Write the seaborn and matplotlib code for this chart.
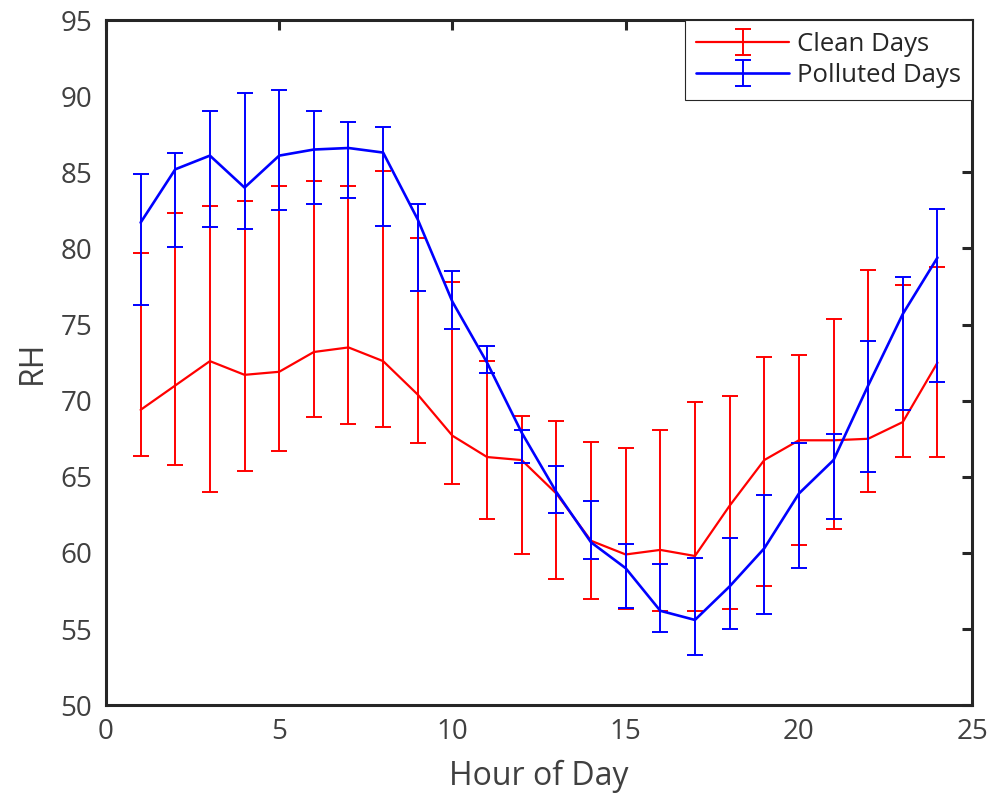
import numpy as np
import pandas as pd
import matplotlib
matplotlib.use("Agg")
import matplotlib.pyplot as plt
import seaborn as sns
from matplotlib.legend_handler import HandlerTuple

# --------------------------- DATA -----------------------------------
hours = list(range(1, 25))

clean_mean = [69.4, 71.0, 72.6, 71.7, 71.9, 73.2, 73.5, 72.6, 70.4, 67.7, 66.3, 66.1,
              63.9, 60.8, 59.9, 60.2, 59.8, 63.1, 66.1, 67.4, 67.4, 67.5, 68.6, 72.5]
clean_upper = [79.7, 82.3, 82.8, 83.1, 84.1, 84.4, 84.1, 85.1, 80.7, 77.8, 72.6, 69.0,
               68.7, 67.3, 66.9, 68.1, 69.9, 70.3, 72.9, 73.0, 75.4, 78.6, 77.6, 78.8]
clean_lower = [66.4, 65.8, 64.0, 65.4, 66.7, 68.9, 68.5, 68.3, 67.2, 64.5, 62.2, 59.9,
               58.3, 57.0, 56.3, 56.2, 56.2, 56.3, 57.8, 60.5, 61.6, 64.0, 66.3, 66.3]

polluted_mean = [81.7, 85.2, 86.1, 84.0, 86.1, 86.5, 86.6, 86.3, 81.9, 76.5, 72.5, 67.9,
                 64.0, 60.7, 59.0, 56.2, 55.6, 57.8, 60.3, 63.9, 66.1, 71.0, 75.7, 79.4]
polluted_upper = [84.9, 86.3, 89.0, 90.2, 90.4, 89.0, 88.3, 88.0, 82.9, 78.5, 73.6, 68.1,
                  65.7, 63.4, 60.6, 59.3, 59.7, 61.0, 63.8, 67.2, 67.8, 73.9, 78.1, 82.6]
polluted_lower = [76.3, 80.1, 81.4, 81.3, 82.5, 82.9, 83.3, 81.5, 77.2, 74.7, 71.8, 65.9,
                  62.6, 59.6, 56.4, 54.8, 53.3, 55.0, 56.0, 59.0, 62.2, 65.3, 69.4, 71.2]

series_names = ["Clean Days", "Polluted Days"]
series_colors = {"Clean Days": "#ff0000", "Polluted Days": "#0000ff"}

# --------------------------- SETTINGS ---------------------------
sns.set_style("white")
plt.rcParams['font.family'] = ['Open Sans', 'DejaVu Sans']
axis_color = "#262626"
text_color = "#404040"

df = pd.DataFrame({
    "hour": hours * 2,
    "RH": clean_mean + polluted_mean,
    "upper": clean_upper + polluted_upper,
    "lower": clean_lower + polluted_lower,
    "group": [series_names[0]] * len(hours) + [series_names[1]] * len(hours),
})

fig = plt.figure(figsize=(9.95, 8.05), dpi=100)
ax = fig.add_axes([0.1065, 0.124, 0.8705, 0.851])

handles = []
for name in series_names:
    sub = df[df["group"] == name]
    col = series_colors[name]
    lw = 1.6 if name == "Clean Days" else 1.9
    sns.lineplot(data=sub, x="hour", y="RH", color=col, linewidth=lw, ax=ax, legend=False)
    line = ax.lines[-1]
    err = ax.errorbar(sub["hour"], sub["RH"],
                      yerr=[sub["RH"] - sub["lower"], sub["upper"] - sub["RH"]],
                      fmt="none", ecolor=col, elinewidth=1.4, capsize=6, capthick=1.4)
    handles.append((line, err))

ax.set_xlim(0, 25)
ax.set_ylim(50, 95)
ax.set_xticks(np.arange(0, 26, 5))
ax.set_yticks(np.arange(50, 96, 5))
ax.tick_params(direction="in", length=7, width=2.2, top=True, right=True,
               labelsize=20, colors=axis_color, labelcolor=text_color)
ax.tick_params(axis="x", pad=9)
ax.tick_params(axis="y", pad=10)
for sp in ax.spines.values():
    sp.set_linewidth(2.2)
    sp.set_color(axis_color)

ax.set_xlabel("Hour of Day", fontsize=23, color=text_color, labelpad=10)
ax.set_ylabel("RH", fontsize=23, color=text_color, labelpad=8)

leg = ax.legend(handles, series_names, handler_map={tuple: HandlerTuple(ndivide=1)},
                loc="upper right", borderaxespad=0, fancybox=False, framealpha=1,
                edgecolor=axis_color, fontsize=18.5, handlelength=3.6, handletextpad=0.3,
                borderpad=0.45, labelspacing=0.25)
leg.get_frame().set_linewidth(0.8)
for t in leg.get_texts():
    t.set_color(axis_color)

fig.savefig("out.png", dpi=100)
